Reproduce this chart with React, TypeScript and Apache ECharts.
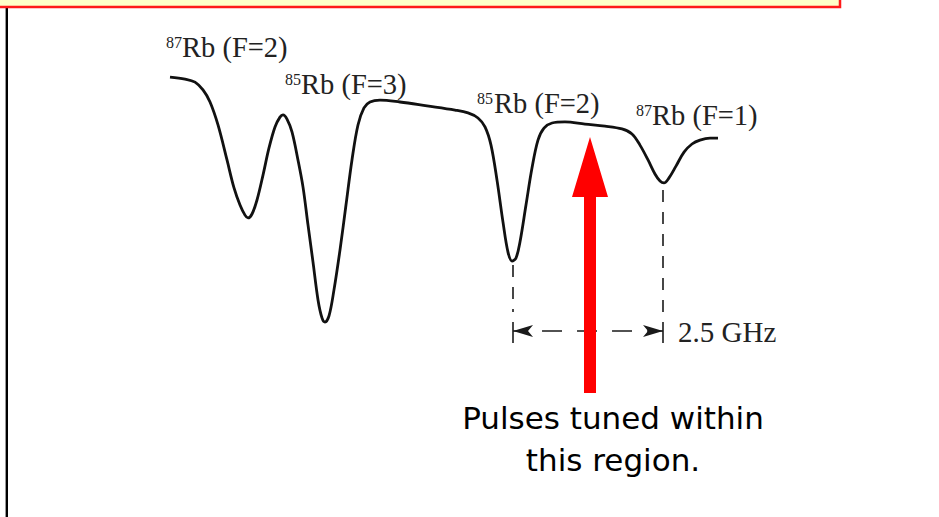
import React, { useEffect, useRef } from "react";
import * as echarts from "echarts";

// Frequency axis (GHz, arbitrary origin) and relative transmission
const freqGHz = [
  0, 0.25, 0.417, 0.55, 0.667, 0.8, 0.95, 1.067, 1.167, 1.25, 1.3, 1.367, 1.45, 1.55, 1.65, 1.75,
  1.833, 1.883, 1.95, 2.033, 2.133, 2.217, 2.3, 2.383, 2.467, 2.533, 2.583, 2.65, 2.733, 2.833,
  2.933, 3.033, 3.133, 3.233, 3.333, 3.5, 3.833, 4.283, 4.75, 4.967, 5.133, 5.25, 5.35, 5.45,
  5.55, 5.633, 5.7, 5.767, 5.833, 5.933, 6.033, 6.133, 6.233, 6.367, 6.583, 6.917, 7.25, 7.533,
  7.7, 7.833, 7.967, 8.083, 8.167, 8.233, 8.317, 8.433, 8.567, 8.7, 8.833, 9.0, 9.133,
];
const transmission = [
  0.939, 0.932, 0.921, 0.893, 0.85, 0.768, 0.643, 0.543, 0.482, 0.446, 0.436, 0.45, 0.5, 0.589,
  0.686, 0.761, 0.796, 0.804, 0.789, 0.743, 0.643, 0.546, 0.411, 0.279, 0.143, 0.079, 0.064,
  0.086, 0.179, 0.321, 0.482, 0.643, 0.768, 0.829, 0.85, 0.857, 0.85, 0.836, 0.821, 0.811,
  0.793, 0.761, 0.696, 0.571, 0.421, 0.314, 0.282, 0.293, 0.35, 0.482, 0.614, 0.714, 0.757,
  0.775, 0.779, 0.771, 0.764, 0.754, 0.736, 0.696, 0.643, 0.593, 0.568, 0.561, 0.579, 0.621,
  0.671, 0.7, 0.714, 0.721, 0.721,
];

// Peak labels: isotope mass number (superscript) and hyperfine level
const isotopes = ["87", "85", "85", "87"];
const levels = ["Rb (F=2)", "Rb (F=3)", "Rb (F=2)", "Rb (F=1)"];

// Separation marker between 85Rb (F=2) and 87Rb (F=1) dips
const markerFreqs = [5.717, 8.217];
const markerTop = [0.268, 0.536];
const spacingLabel = "2.5 GHz";
const noteLines = ["Pulses tuned within", "this region."];

export default function App() {
  const ref = useRef<HTMLDivElement>(null);

  useEffect(() => {
    if (!ref.current) return;
    const chart = echarts.init(ref.current, null, { renderer: "svg" });

    const dashY = 0.1;
    const arrowY = 0.032;
    const tickTop = 0.064;
    const tickBottom = -0.011;
    const lineColor = "#1a1a1a";

    const markData: any[] = [];
    markerFreqs.forEach((f, i) => {
      markData.push([
        { coord: [f, markerTop[i]] },
        { coord: [f, dashY] },
      ]);
      markData.push([
        { coord: [f, tickTop], lineStyle: { type: "solid", width: 1.6 } },
        { coord: [f, tickBottom] },
      ]);
    });
    markData.push([
      {
        coord: [markerFreqs[0], arrowY],
        symbol: "arrow",
        symbolSize: [9, 20],
        lineStyle: { type: [20, 15], dashOffset: 6 },
      },
      { coord: [markerFreqs[1], arrowY], symbol: "arrow", symbolSize: [9, 20] },
    ]);

    const serif = '"Liberation Serif", "Times New Roman", serif';
    const labelPos = [
      { sx: 166, mx: 182, base: 57 },
      { sx: 285, mx: 301, base: 94 },
      { sx: 477, mx: 494, base: 113 },
      { sx: 636, mx: 652, base: 125 },
    ];
    const graphics: any[] = [
      {
        type: "rect",
        shape: { x: -5, y: -20, width: 845, height: 27 },
        style: { fill: "#ffffc8", stroke: "#ff1a1a", lineWidth: 2.5 },
        z: 10,
      },
      {
        type: "line",
        shape: { x1: 6.8, y1: 8, x2: 6.8, y2: 520 },
        style: { stroke: "#000", lineWidth: 2.4 },
      },
      {
        type: "polygon",
        shape: {
          points: [
            [590, 137],
            [608, 197],
            [596, 197],
            [596, 393],
            [584, 393],
            [584, 197],
            [572, 197],
          ],
        },
        style: { fill: "#ff0000" },
        z: 20,
      },
    ];
    labelPos.forEach((p, i) => {
      graphics.push({
        type: "text",
        x: p.sx,
        y: p.base - 15,
        style: {
          text: isotopes[i],
          font: `16px ${serif}`,
          fill: "#222",
          align: "left",
          verticalAlign: "middle",
        },
      });
      graphics.push({
        type: "text",
        x: p.mx,
        y: p.base - 10,
        style: {
          text: levels[i],
          font: `28.5px ${serif}`,
          fill: "#222",
          align: "left",
          verticalAlign: "middle",
        },
      });
    });
    graphics.push({
      type: "text",
      x: 678,
      y: 342 - 10,
      style: {
        text: spacingLabel,
        font: `29px ${serif}`,
        fill: "#222",
        align: "left",
        verticalAlign: "middle",
      },
    });
    const noteBase = [429, 471];
    noteLines.forEach((t, i) => {
      graphics.push({
        type: "text",
        x: 613,
        y: noteBase[i] - 11,
        style: {
          text: t,
          font: '31px "DejaVu Sans", sans-serif',
          fill: "#000",
          align: "center",
          verticalAlign: "middle",
        },
      });
    });

    chart.setOption({
      animation: false,
      backgroundColor: "#ffffff",
      grid: { left: 170, right: 217, top: 60, bottom: 107 },
      xAxis: { type: "value", min: 0, max: 9.2, show: false },
      yAxis: { type: "value", min: -0.25, max: 1, show: false },
      series: [
        {
          type: "line",
          data: freqGHz.map((f, i) => [f, transmission[i]]),
          showSymbol: false,
          smooth: 0.35,
          clip: false,
          lineStyle: { color: "#111", width: 2.8 },
          markLine: {
            silent: true,
            animation: false,
            symbol: ["none", "none"],
            label: { show: false },
            lineStyle: { color: lineColor, width: 1.6, type: [12, 10] },
            data: markData,
          },
        },
      ],
      graphic: graphics,
    });

    return () => chart.dispose();
  }, []);

  return (
    <div
      ref={ref}
      style={{ position: "absolute", left: 0, top: 0, width: 939, height: 517 }}
    />
  );
}
